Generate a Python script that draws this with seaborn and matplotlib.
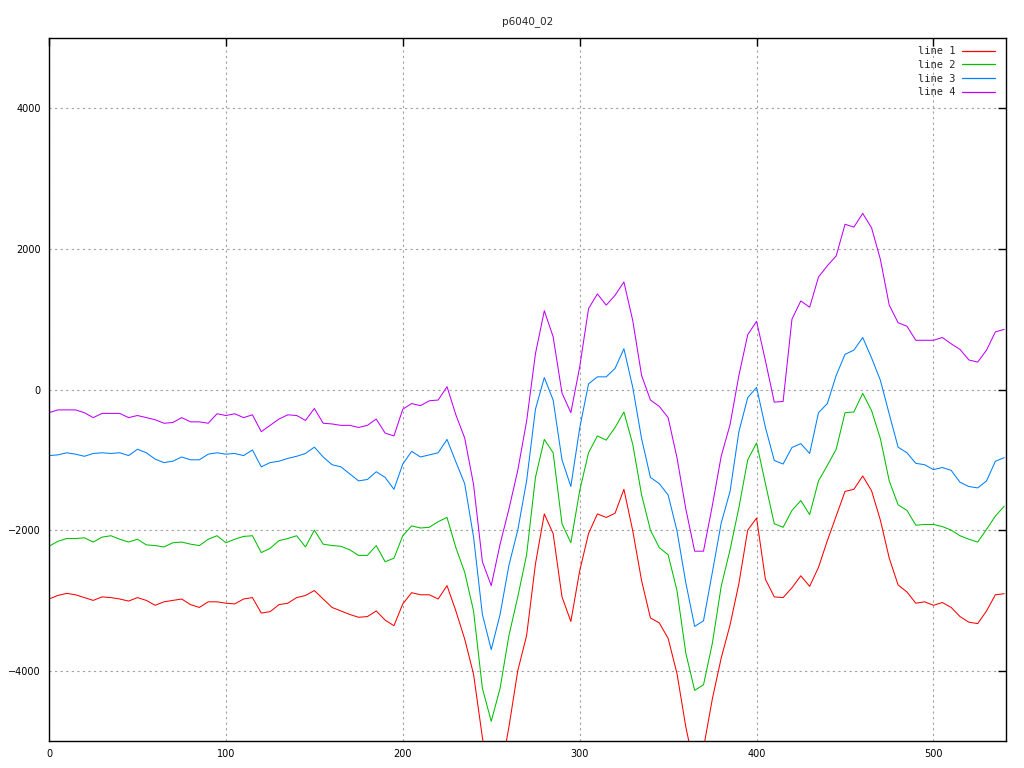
import numpy as np
import pandas as pd
import matplotlib
matplotlib.use("Agg")
import matplotlib.pyplot as plt
import seaborn as sns

# ---------------------------------------------------------
# data, one value every 5 samples
# ---------------------------------------------------------
x = list(range(0, 545, 5))

line1 = [-2980, -2930, -2900, -2920, -2960, -3000, -2950, -2960, -2980, -3010,
         -2960, -3000, -3070, -3020, -3000, -2980, -3060, -3100, -3020, -3020,
         -3040, -3050, -2980, -2960, -3180, -3160, -3060, -3040, -2960, -2930,
         -2860, -2980, -3100, -3150, -3200, -3240, -3230, -3150, -3280, -3360,
         -3050, -2890, -2920, -2920, -2980, -2790, -3150, -3550, -4050, -4950,
         -5600, -5500, -4800, -4000, -3500, -2480, -1770, -2050, -2950, -3300,
         -2580, -2050, -1770, -1820, -1760, -1420, -2010, -2720, -3250, -3320,
         -3540, -4040, -4800, -5400, -5100, -4400, -3820, -3350, -2760, -2000,
         -1830, -2700, -2950, -2960, -2820, -2650, -2800, -2530, -2150, -1800,
         -1450, -1420, -1230, -1440, -1860, -2400, -2780, -2880, -3040, -3020,
         -3070, -3030, -3100, -3230, -3310, -3330, -3150, -2920, -2905]

line2 = [-2230, -2160, -2120, -2120, -2110, -2170, -2100, -2080, -2130, -2170,
         -2130, -2210, -2220, -2240, -2180, -2170, -2200, -2220, -2130, -2080,
         -2180, -2130, -2090, -2080, -2320, -2260, -2150, -2120, -2080, -2240,
         -2000, -2200, -2220, -2230, -2280, -2360, -2360, -2220, -2450, -2400,
         -2080, -1940, -1970, -1960, -1880, -1820, -2250, -2600, -3150, -4250,
         -4720, -4250, -3500, -2950, -2350, -1250, -710, -900, -1910, -2180,
         -1440, -900, -660, -720, -540, -320, -780, -1500, -2000, -2250,
         -2350, -2860, -3750, -4280, -4200, -3610, -2800, -2280, -1680, -1000,
         -760, -1340, -1910, -1960, -1720, -1580, -1780, -1300, -1080, -850,
         -330, -320, -55, -300, -700, -1300, -1640, -1720, -1930, -1920,
         -1920, -1950, -2000, -2080, -2130, -2170, -1990, -1800, -1660]

line3 = [-940, -930, -900, -920, -950, -910, -900, -910, -900, -940,
         -850, -900, -990, -1040, -1020, -960, -1000, -1000, -920, -900,
         -920, -910, -940, -860, -1100, -1040, -1020, -980, -950, -910,
         -820, -960, -1070, -1100, -1200, -1300, -1280, -1170, -1250, -1420,
         -1060, -880, -960, -930, -900, -710, -1030, -1340, -2100, -3200,
         -3700, -3200, -2500, -2000, -1300, -280, 170, -150, -1000, -1380,
         -550, 80, 180, 180, 300, 580, 30, -700, -1250, -1340,
         -1500, -2010, -2750, -3370, -3290, -2600, -1900, -1450, -600, -115,
         30, -540, -1010, -1060, -825, -770, -910, -330, -200, 200,
         500, 560, 740, 450, 130, -350, -820, -900, -1050, -1070,
         -1140, -1110, -1150, -1320, -1380, -1400, -1300, -1020, -970]

line4 = [-330, -290, -290, -290, -330, -400, -340, -340, -340, -400,
         -370, -400, -430, -480, -470, -400, -460, -460, -480, -345,
         -370, -345, -400, -360, -600, -510, -420, -360, -370, -440,
         -270, -480, -490, -510, -510, -540, -510, -420, -620, -660,
         -280, -200, -230, -160, -150, 40, -360, -690, -1350, -2450,
         -2790, -2200, -1700, -1150, -450, 510, 1120, 750, -50, -330,
         320, 1150, 1360, 1200, 1340, 1530, 980, 200, -150, -240,
         -400, -970, -1700, -2300, -2300, -1650, -950, -500, 200, 780,
         970, 410, -180, -170, 1000, 1260, 1170, 1600, 1760, 1900,
         2350, 2310, 2505, 2300, 1850, 1200, 950, 900, 700, 700,
         700, 740, 650, 570, 420, 390, 560, 820, 855]

labels = ["line 1", "line 2", "line 3", "line 4"]
colores = ["#ff0000", "#00c000", "#0080ff", "#c000ff"]
yticks = [-4000, -2000, 0, 2000, 4000]
xticks = [0, 100, 200, 300, 400, 500]

# formato largo para seaborn
df = pd.concat([
    pd.DataFrame({"x": x, "y": serie, "serie": nombre})
    for nombre, serie in zip(labels, [line1, line2, line3, line4])
])

# ---------------------------------------------------------
# grafico
# ---------------------------------------------------------
sns.set_style("white")

fig = plt.figure(figsize=(10.24, 7.68), dpi=100)
ax = fig.add_axes([49 / 1024, 1 - 741 / 768, (1006 - 49) / 1024, (741 - 38) / 768])

sns.lineplot(data=df, x="x", y="y", hue="serie", hue_order=labels,
             palette=colores, linewidth=0.75, ax=ax, legend=False)

ax.set_xlim(0, 541)
ax.set_ylim(-5000, 5000)
ax.set_xticks(xticks)
ax.set_yticks(yticks)
ax.set_xlabel("")
ax.set_ylabel("")
ax.grid(True, color="#a0a0a0", linestyle=(0, (2, 3)), linewidth=0.8)

for s in ax.spines.values():
    s.set_color("black")
    s.set_linewidth(1.0)
ax.tick_params(direction="in", top=True, right=True, length=6, width=1,
               labelsize=7, pad=6, colors="black")

ax.set_title("p6040_02", fontsize=7.5, pad=10)

handles = [plt.Line2D([], [], color=c, linewidth=0.9) for c in colores]
ax.legend(handles, labels, loc="upper right", bbox_to_anchor=(0.995, 0.997),
          frameon=False, markerfirst=False, handlelength=3.2,
          handletextpad=0.6, labelspacing=0.35, borderaxespad=0.2,
          prop={"family": "DejaVu Sans Mono", "size": 7.5})

plt.savefig("out.png", dpi=100)
